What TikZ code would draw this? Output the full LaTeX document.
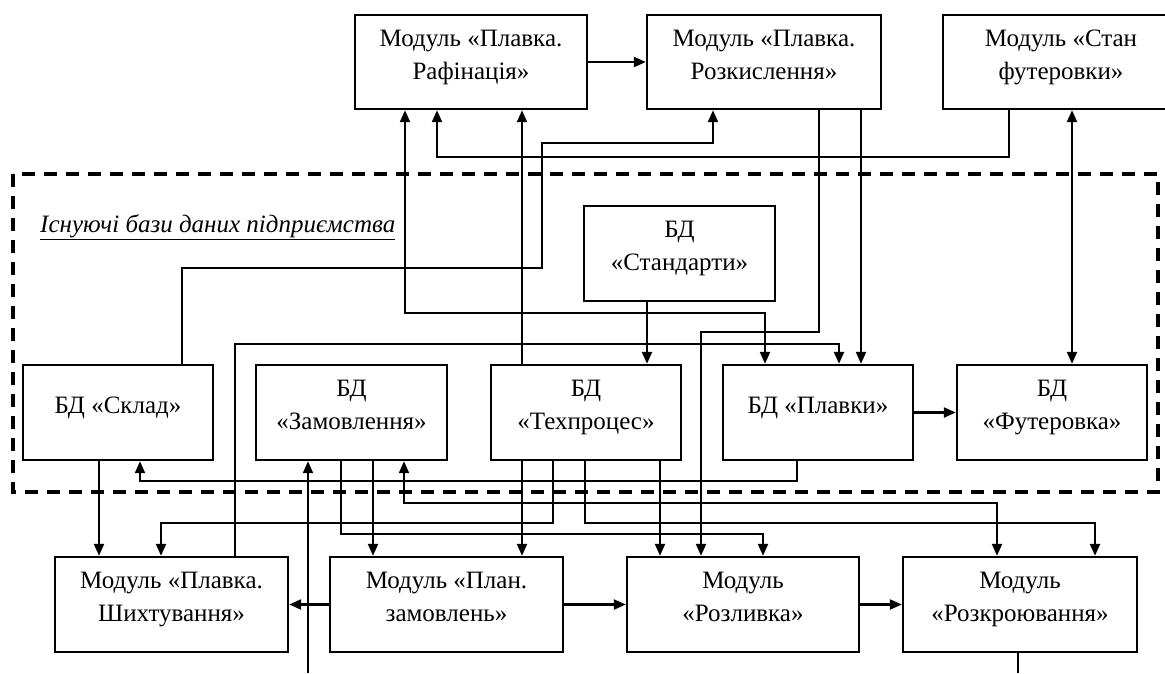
\documentclass[tikz,border=0pt]{standalone}
\usepackage{fontspec}
\setmainfont{Liberation Serif}
\usetikzlibrary{arrows.meta,positioning}

\tikzset{
  blok/.style={draw,line width=2.4pt,align=center,inner sep=0pt,
    minimum height=95pt,font=\fontsize{25}{33}\selectfont,
    execute at end node={\rule[-15pt]{0pt}{0pt}}},
  zv/.style={line width=2.2pt},
  oblast/.style={line width=3.2pt,dash pattern=on 13pt off 9pt}
}

\begin{document}
\begin{tikzpicture}[x=1pt,y=-1pt,>={Triangle[length=12pt,width=10pt]}]
\useasboundingbox (0,0) rectangle (1165,673);
\node[blok,minimum width=232pt,minimum height=94pt] (raf) at (471,62) {Модуль «Плавка.\\Рафінація»};
\node[blok,minimum width=234pt,minimum height=94pt] (rozk) at (764,62) {Модуль «Плавка.\\Розкислення»};
\node[blok,minimum width=236pt,minimum height=94pt] (stan) at (1061,62) {Модуль «Стан\\футеровки»};
\draw[oblast] (13,174) rectangle (1158,492);
\node[font=\fontsize{25}{33}\selectfont\itshape,anchor=base west,inner sep=0pt] (napys) at (40,232) {\underline{Існуючі бази даних підприємства}};
\node[blok,minimum width=191pt] (stand) at (679.5,253.5) {БД\\«Стандарти»};
\node[blok,minimum width=190pt] (sklad) at (118,412.5) {БД «Склад»};
\node[blok,minimum width=191pt] (zamov) at (351.5,412.5) {БД\\«Замовлення»};
\node[blok,minimum width=190pt] (tekh) at (586,412.5) {БД\\«Техпроцес»};
\node[blok,minimum width=190pt] (plav) at (818,412.5) {БД «Плавки»};
\node[blok,minimum width=190pt] (futer) at (1052,412.5) {БД\\«Футеровка»};
\node[blok,minimum width=233pt] (shykh) at (171.5,604.5) {Модуль «Плавка.\\Шихтування»};
\node[blok,minimum width=233pt] (plan) at (446.5,604.5) {Модуль «План.\\замовлень»};
\node[blok,minimum width=232pt] (rozl) at (743,604.5) {Модуль\\«Розливка»};
\node[blok,minimum width=234pt] (rozkr) at (1020,604.5) {Модуль\\«Розкроювання»};
\coordinate (vkhid) at (308,673);
\coordinate (vykhid) at (1018,673);

\draw[zv,->] (raf) -- (rozk);
\draw[zv,->] (stan.south -| 1009,0) |- (437,157) -- (raf.south -| 437,0);
\draw[zv,->] (sklad.north -| 182,0) |- (542,268) |- (713,143) -- (rozk.south -| 713,0);
\draw[zv,<->] (raf.south -| 405,0) |- (765,313) -- (plav.north -| 765,0);
\draw[zv,->] (tekh.north -| 522,0) -- (raf.south -| 522,0);
\draw[zv,->] (stand.south -| 647,0) -- (tekh.north -| 647,0);
\draw[zv,->] (shykh.north -| 235,0) |- (839,344) -- (plav.north -| 839,0);
\draw[zv,->] (rozk.south -| 861,0) -- (plav.north -| 861,0);
\draw[zv,->] (rozk.south -| 819,0) |- (701,332) -- (rozl.north -| 701,0);
\draw[zv,<->] (stan.south -| 1072,0) -- (futer.north -| 1072,0);
\draw[zv,->] (plav) -- (futer);
\draw[zv,->] (plav.south -| 797,0) |- (140,481) -- (sklad.south -| 140,0);
\draw[zv,->] (sklad.south -| 99,0) -- (shykh.north -| 99,0);
\draw[zv,->] (vkhid) -- (zamov.south -| 308,0);
\draw[zv,<->] (zamov.south -| 404,0) |- (997,503) -- (rozkr.north -| 997,0);
\draw[zv,->] (zamov.south -| 341,0) |- (763,534) -- (rozl.north -| 763,0);
\draw[zv,->] (zamov.south -| 373,0) -- (plan.north -| 373,0);
\draw[zv,->] (tekh.south -| 553,0) |- (161,523) -- (shykh.north -| 161,0);
\draw[zv,->] (tekh.south -| 585,0) |- (1095,523) -- (rozkr.north -| 1095,0);
\draw[zv,->] (tekh.south -| 522,0) -- (plan.north -| 522,0);
\draw[zv,->] (tekh.south -| 660,0) -- (rozl.north -| 660,0);
\draw[zv,->] (plan) -- (shykh);
\draw[zv,->] (plan) -- (rozl);
\draw[zv,->] (rozl) -- (rozkr);
\draw[zv] (rozkr.south -| 1018,0) -- (vykhid);
\end{tikzpicture}
\end{document}
